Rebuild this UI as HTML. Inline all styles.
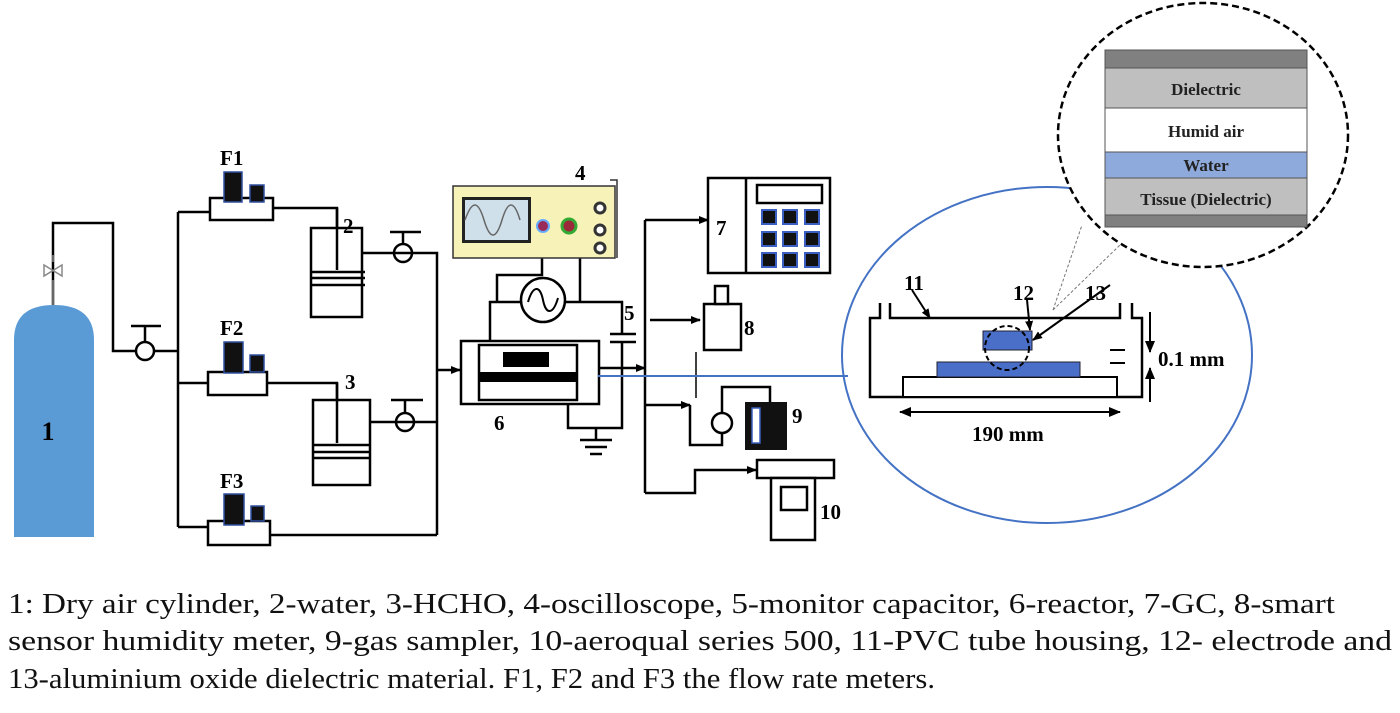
<!DOCTYPE html>
<html><head><meta charset="utf-8"><style>
html,body{margin:0;padding:0;background:#fff;}
svg{display:block;}
text{font-family:"Liberation Serif",serif;}
</style></head><body>
<svg width="1400" height="713" viewBox="0 0 1400 713" xmlns="http://www.w3.org/2000/svg">
<defs>
<marker id="ar" markerWidth="10" markerHeight="10" refX="9" refY="5" orient="auto" markerUnits="userSpaceOnUse"><path d="M0,1 L10,5 L0,9 Z" fill="#000"/></marker>
<marker id="ar2" markerWidth="12" markerHeight="12" refX="11" refY="6" orient="auto-start-reverse" markerUnits="userSpaceOnUse"><path d="M0,1 L12,6 L0,11 Z" fill="#000"/></marker>
</defs>
<g stroke="#000" stroke-width="2.5" fill="none">
<polyline points="53,305 53,223 113,223 113,351 178,351"/>
<polyline points="178,212 178,527"/>
<circle cx="145" cy="351" r="9" fill="#fff"/>
<line x1="145" y1="342" x2="145" y2="326"/><line x1="131" y1="326" x2="161" y2="326"/>
<polyline points="178,212 210,212"/>
<rect x="210" y="198" width="63" height="22" fill="#fff"/>
<polyline points="273,208 337,208 337,270"/>
<rect x="311" y="228" width="51" height="89" fill="#fff"/>
<line x1="337" y1="208" x2="337" y2="270"/>
<line x1="311" y1="272" x2="365" y2="272"/><line x1="311" y1="278" x2="365" y2="278"/><line x1="311" y1="285" x2="365" y2="285"/>
<polyline points="362,253 437,253 437,535"/>
<circle cx="403" cy="253" r="9" fill="#fff"/><line x1="394" y1="253" x2="412" y2="253"/>
<line x1="403" y1="244" x2="403" y2="232"/><line x1="390" y1="232" x2="421" y2="232"/>
<polyline points="178,383 208,383"/>
<rect x="208" y="372" width="59" height="23" fill="#fff"/>
<polyline points="267,383 337,383 337,443"/>
<rect x="313" y="400" width="57" height="85" fill="#fff"/>
<line x1="337" y1="383" x2="337" y2="443"/>
<line x1="313" y1="445" x2="370" y2="445"/><line x1="313" y1="452" x2="370" y2="452"/><line x1="313" y1="458" x2="370" y2="458"/>
<polyline points="370,422 437,422"/>
<circle cx="405" cy="422" r="9" fill="#fff"/><line x1="396" y1="422" x2="414" y2="422"/>
<line x1="405" y1="413" x2="405" y2="400"/><line x1="391" y1="400" x2="423" y2="400"/>
<polyline points="178,527 208,527"/>
<rect x="208" y="521" width="62" height="24" fill="#fff"/>
<polyline points="270,535 437,535"/>
<line x1="437" y1="370" x2="460" y2="370" marker-end="url(#ar)"/>
<rect x="461" y="341" width="138" height="63" fill="#fff"/>
<rect x="479" y="345" width="98" height="55"/>
<polyline points="490,341 490,302 521,302"/>
<polyline points="497,302 497,275 542,275 542,258"/>
<polyline points="565,302 622,302 622,334"/>
<line x1="580" y1="258" x2="580" y2="302"/>
<circle cx="543" cy="300" r="22" fill="#fff"/>
<path d="M528,302 C533,285 540,285 543,300 C546,315 553,315 558,298" stroke-width="2"/>
<line x1="610" y1="334" x2="636" y2="334"/><line x1="610" y1="342" x2="636" y2="342"/>
<polyline points="622,342 622,428 568,428 568,404"/>
<line x1="596" y1="428" x2="596" y2="440"/>
<line x1="580" y1="440" x2="612" y2="440"/><line x1="585" y1="447" x2="607" y2="447"/><line x1="590" y1="454" x2="602" y2="454"/>
<line x1="599" y1="368" x2="645" y2="368" marker-end="url(#ar)"/>
<polyline points="645,220 645,493"/>
<line x1="645" y1="220" x2="708" y2="220" marker-end="url(#ar)"/>
<rect x="708" y="178" width="122" height="95" fill="#fff"/>
<line x1="746" y1="178" x2="746" y2="273"/>
<rect x="757" y="185" width="65" height="18"/>
<line x1="650" y1="320" x2="700" y2="320" marker-end="url(#ar)"/>
<rect x="704" y="304" width="37" height="46" fill="#fff"/>
<rect x="715" y="286" width="13" height="18" fill="#fff"/>
<line x1="696" y1="352" x2="696" y2="398" stroke-width="1.5"/>
<polyline points="645,405 690,405" marker-end="url(#ar)"/>
<polyline points="690,405 690,445 722,445 722,387 770,387 770,402"/>
<circle cx="722" cy="423" r="10" fill="#fff"/>
<polyline points="645,493 695,493 695,470 756,470" marker-end="url(#ar)"/>
<rect x="757" y="460" width="77" height="18" fill="#fff"/>
<rect x="771" y="478" width="44" height="62" fill="#fff"/>
<rect x="781" y="487" width="26" height="23"/>
</g>
<path d="M14,537 L14,340 Q14,305 54,305 Q94,305 94,340 L94,537 Z" fill="#5b9bd5"/>
<g stroke="#888" stroke-width="1.5" fill="none"><line x1="53" y1="305" x2="53" y2="280"/><path d="M44,265 L62,276 L62,265 L44,276 Z"/><line x1="53" y1="262" x2="53" y2="255"/></g>
<text x="48" y="440" font-size="26" font-weight="bold" text-anchor="middle">1</text>
<g fill="#111" stroke="#2f4fa0" stroke-width="1.5">
<rect x="224" y="172" width="18" height="30"/><rect x="250" y="185" width="14" height="17"/>
<rect x="224" y="342" width="19" height="31"/><rect x="250" y="355" width="14" height="17"/>
<rect x="224" y="494" width="20" height="31"/><rect x="251" y="506" width="13" height="15"/>
</g>
<g font-size="21" font-weight="bold">
<text x="220" y="165">F1</text><text x="220" y="335">F2</text><text x="220" y="488">F3</text>
<text x="343" y="233">2</text><text x="345" y="389">3</text>
<text x="575" y="180">4</text><text x="624" y="320">5</text><text x="494" y="430">6</text>
<text x="716" y="235">7</text><text x="744" y="335">8</text><text x="792" y="423">9</text><text x="820" y="519">10</text>
</g>
<rect x="503" y="352" width="46" height="15" fill="#000"/>
<rect x="479" y="372" width="98" height="10" fill="#000"/>
<rect x="453" y="186" width="162" height="72" fill="#f6f2b8" stroke="#333" stroke-width="1.5"/>
<rect x="462" y="197" width="69" height="46" fill="#222"/>
<rect x="465" y="200" width="63" height="40" fill="#cfe0ea"/>
<path d="M465,220 C472,200 478,200 484,220 C490,240 496,240 502,220 C508,200 514,200 520,220" fill="none" stroke="#666" stroke-width="1.5"/>
<circle cx="543" cy="226" r="6" fill="#9a2a5a" stroke="#6af" stroke-width="2"/>
<circle cx="569" cy="226" r="7" fill="#9a2a3a" stroke="#3a3" stroke-width="3"/>
<circle cx="600" cy="208" r="5" fill="#fff" stroke="#333" stroke-width="3"/>
<circle cx="600" cy="230" r="5" fill="#fff" stroke="#333" stroke-width="3"/>
<circle cx="600" cy="248" r="5" fill="#fff" stroke="#333" stroke-width="3"/>
<polyline points="610,180 617,180 617,258" fill="none" stroke="#333" stroke-width="1.5"/>
<g fill="#111" stroke="#3a5fc0" stroke-width="2">
<rect x="762" y="210" width="14" height="14"/><rect x="783" y="210" width="14" height="14"/><rect x="805" y="210" width="14" height="14"/>
<rect x="762" y="232" width="14" height="14"/><rect x="783" y="232" width="14" height="14"/><rect x="805" y="232" width="14" height="14"/>
<rect x="762" y="253" width="14" height="14"/><rect x="783" y="253" width="14" height="14"/><rect x="805" y="253" width="14" height="14"/>
</g>
<rect x="745" y="402" width="42" height="48" fill="#111"/>
<rect x="752" y="408" width="8" height="35" fill="#fff" stroke="#3a5fc0" stroke-width="1.5"/>
<line x1="598" y1="376" x2="848" y2="376" stroke="#4472c4" stroke-width="2"/>
<ellipse cx="1047" cy="355" rx="205" ry="168" fill="none" stroke="#4472c4" stroke-width="2"/>
<ellipse cx="1203" cy="135" rx="145" ry="132" fill="#fff" stroke="#000" stroke-width="2.5" stroke-dasharray="7,4"/>
<rect x="1105" y="50" width="202" height="18" fill="#808080" stroke="#555"/>
<rect x="1105" y="68" width="202" height="40" fill="#bfbfbf" stroke="#555"/>
<rect x="1105" y="108" width="202" height="44" fill="#fff" stroke="#555"/>
<rect x="1105" y="152" width="202" height="26" fill="#8ea9db" stroke="#555"/>
<rect x="1105" y="178" width="202" height="37" fill="#bfbfbf" stroke="#555"/>
<rect x="1105" y="215" width="202" height="12" fill="#808080" stroke="#555"/>
<g font-size="17" font-weight="bold" text-anchor="middle" fill="#222">
<text x="1206" y="95">Dielectric</text><text x="1206" y="137">Humid air</text><text x="1206" y="171">Water</text><text x="1206" y="205">Tissue (Dielectric)</text>
</g>
<g stroke="#777" stroke-width="1" stroke-dasharray="3,2"><line x1="1053" y1="310" x2="1082" y2="225"/><line x1="1053" y1="310" x2="1120" y2="245"/></g>
<g stroke="#000" stroke-width="2.5" fill="none">
<polyline points="880,303 880,318 870,318 870,397 1142,397 1142,318 1132,318 1132,303"/>
<polyline points="890,303 890,318 1120,318 1120,303"/>
<rect x="903" y="377" width="214" height="20" fill="#fff" stroke-width="2"/>
</g>
<rect x="937" y="362" width="143" height="15" fill="#4a6fc8" stroke="#223" stroke-width="1"/>
<rect x="983" y="331" width="49" height="19" fill="#4a6fc8" stroke="#223" stroke-width="1"/>
<circle cx="1007" cy="348" r="22" fill="none" stroke="#000" stroke-width="2" stroke-dasharray="5,3"/>
<g stroke="#000" stroke-width="2" fill="none">
<line x1="912" y1="290" x2="930" y2="318" marker-end="url(#ar)"/>
<line x1="1027" y1="300" x2="1030" y2="330" marker-end="url(#ar)"/>
<line x1="1110" y1="285" x2="1033" y2="340" marker-end="url(#ar)"/>
<line x1="900" y1="412" x2="1120" y2="412" marker-start="url(#ar2)" marker-end="url(#ar2)"/>
<line x1="1150" y1="312" x2="1150" y2="352" marker-end="url(#ar2)"/>
<line x1="1150" y1="402" x2="1150" y2="368" marker-end="url(#ar2)"/>
<line x1="1110" y1="350" x2="1125" y2="350"/><line x1="1110" y1="363" x2="1125" y2="363"/>
</g>
<g font-size="21" font-weight="bold">
<text x="904" y="290">11</text><text x="1013" y="300">12</text><text x="1085" y="300">13</text>
<text x="1158" y="366">0.1 mm</text><text x="972" y="441">190 mm</text>
</g>
<g font-size="28" fill="#111">
<text x="8" y="613" textLength="1327" lengthAdjust="spacingAndGlyphs">1: Dry air cylinder, 2-water, 3-HCHO, 4-oscilloscope, 5-monitor capacitor, 6-reactor, 7-GC, 8-smart</text>
<text x="8" y="650" textLength="1384" lengthAdjust="spacingAndGlyphs">sensor humidity meter, 9-gas sampler, 10-aeroqual series 500, 11-PVC tube housing, 12- electrode and</text>
<text x="8" y="688" textLength="927" lengthAdjust="spacingAndGlyphs">13-aluminium oxide dielectric material. F1, F2 and F3 the flow rate meters.</text>
</g>
</svg>
</body></html>
